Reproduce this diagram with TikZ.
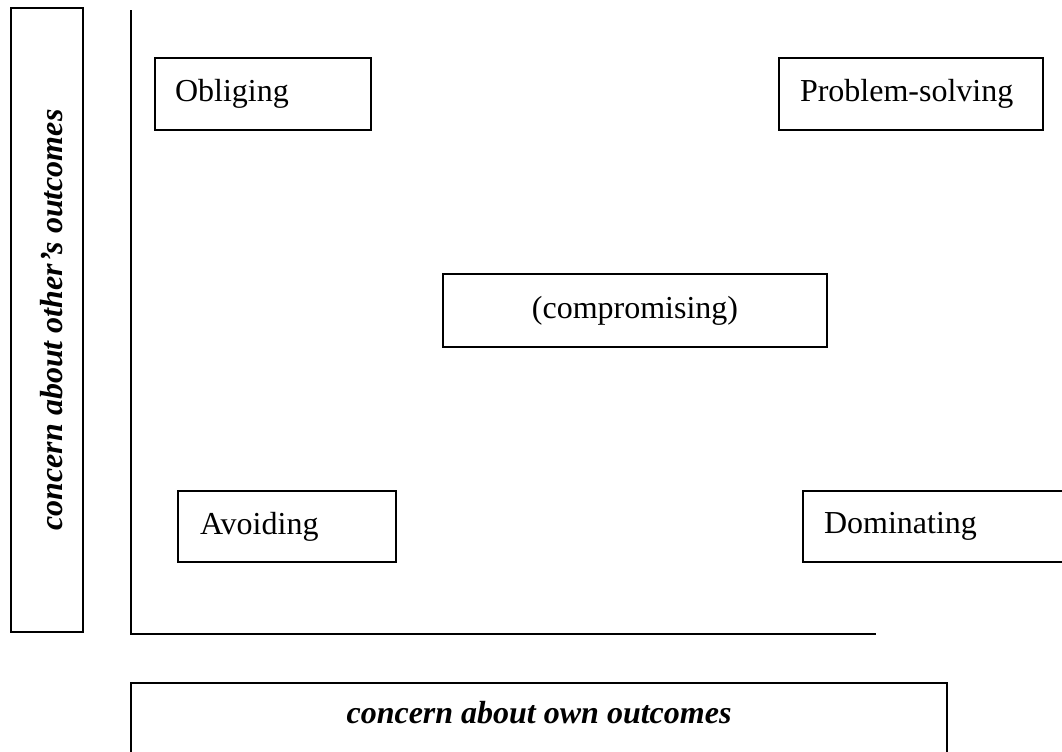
\documentclass[tikz,border=0pt]{standalone}
\usepackage{fontspec}
\setmainfont{Liberation Serif}
\begin{document}
\begin{tikzpicture}[x=0.75pt,y=-0.75pt,
  every node/.style={font=\fontsize{24}{28}\selectfont},
  box/.style={draw, line width=1.4pt, rectangle, inner ysep=0pt},
  lbox/.style={box, align=left, inner xsep=#1},
  axisline/.style={line width=1.5pt}]
\useasboundingbox (0,0) rectangle (1062,751);
% quadrant boxes
\node[lbox=15pt, text width=132pt, minimum width=162pt, minimum height=54pt] (obl) at (263,94) {Obliging};
\node[lbox=15.75pt, text width=166.5pt, minimum width=198pt, minimum height=54pt] (prob) at (911,94) {Problem-solving};
\node[box, minimum width=288pt, minimum height=54.75pt] (comp) at (635,310.5) {(compromising)};
\node[lbox=16.5pt, text width=130.5pt, minimum width=163.5pt, minimum height=53.25pt] (avoid) at (287,526.5) {Avoiding};
\node[lbox=15.75pt, text width=167.25pt, minimum width=198.75pt, minimum height=53.25pt] (dom) at (935.5,526.5) {Dominating};
% axis label boxes
\node[box, rotate=90, minimum width=468pt, minimum height=54pt, text height=22.5pt, text depth=0pt,
  font=\fontsize{24}{28}\selectfont\bfseries\itshape] (ylab) at (47,320) {concern about other’s outcomes};
\node[box, minimum width=612pt, minimum height=60pt, text height=12pt, text depth=12pt,
  font=\fontsize{24}{28}\selectfont\bfseries\itshape] (xlab) at (539,723) {concern about own outcomes};
% axes
\coordinate (top) at (131,10);
\coordinate (corner) at (131,634);
\coordinate (xend) at (876,634);
\draw[axisline] (top) -- (corner) -- (xend);
\end{tikzpicture}
\end{document}
